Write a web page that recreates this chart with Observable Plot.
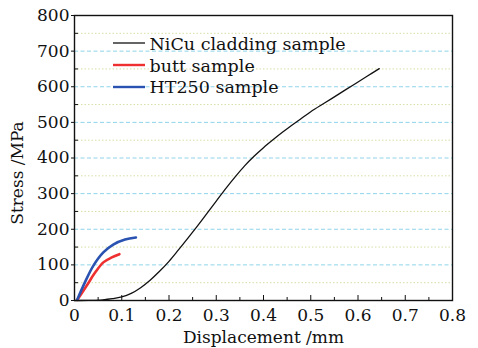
<!DOCTYPE html>
<html>
<head>
<meta charset="utf-8">
<script src="https://cdn.jsdelivr.net/npm/d3@7"></script>
<script src="https://cdn.jsdelivr.net/npm/@observablehq/plot@0.6"></script>
<style>
  html, body { margin: 0; padding: 0; background: #fff; }
  #wrap { position: relative; width: 478px; height: 348px; }
  #legend { position: absolute; left: 113px; top: 32px; }
  #legend .row { display: flex; align-items: center; height: 21.9px; }
</style>
</head>
<body>
<div id="wrap"><div id="legend"></div></div>
<script>
const FONT = "'DejaVu Serif', 'Liberation Serif', serif";

// NiCu cladding sample
const nicuX = [0, 0.03, 0.06, 0.08, 0.1, 0.12, 0.14, 0.16, 0.18, 0.2, 0.22, 0.24, 0.26, 0.28, 0.3, 0.32, 0.34, 0.36, 0.38, 0.4, 0.42, 0.44, 0.46, 0.48, 0.5, 0.53, 0.56, 0.59, 0.62, 0.645];
const nicuY = [0, 0.5, 2, 5, 10, 20, 36, 57, 82, 110, 142, 175, 209, 244, 279, 314, 347, 378, 405, 429, 451, 472, 492, 511, 530, 555, 580, 605, 630, 651];
// butt sample
const buttX = [0.006, 0.026, 0.044, 0.061, 0.079, 0.095];
const buttY = [2, 42, 79, 107, 121, 130];
// HT250 sample
const htX = [0.006, 0.022, 0.04, 0.061, 0.082, 0.107, 0.13];
const htY = [3, 51, 98, 135, 157, 171, 177];

const seriesNames = ["NiCu cladding sample", "butt sample", "HT250 sample"];
const seriesColors = ["#111111", "#ee3030", "#2a52b0"];

const xMajor = [0, 0.1, 0.2, 0.3, 0.4, 0.5, 0.6, 0.7, 0.8];
const xMinor = [0.05, 0.15, 0.25, 0.35, 0.45, 0.55, 0.65, 0.75];
const yMajor = [0, 100, 200, 300, 400, 500, 600, 700, 800];
const yMinor = [50, 150, 250, 350, 450, 550, 650, 750];
const yGridMajor = [100, 200, 300, 400, 500, 600, 700];

const toRows = (xs, ys, name) => xs.map((x, i) => ({x, y: ys[i], name}));
const rows = [
  ...toRows(nicuX, nicuY, seriesNames[0]),
  ...toRows(buttX, buttY, seriesNames[1]),
  ...toRows(htX, htY, seriesNames[2])
];

const legendTexts = seriesNames.map((n, i) =>
  Plot.text([n], {frameAnchor: "top-left", dx: 75, dy: 28.5 + 21.9 * i, textAnchor: "start", lineAnchor: "middle", fontSize: 17.5, fill: "#111"})
);

const chart = Plot.plot({
  width: 478,
  height: 348,
  marginLeft: 74,
  marginRight: 26,
  marginTop: 15,
  marginBottom: 48,
  style: {fontFamily: FONT, fontSize: "17px", color: "#111", background: "transparent"},
  x: {domain: [0, 0.8]},
  y: {domain: [0, 800]},
  marks: [
    Plot.ruleY(yMinor, {stroke: "#d6dfa6", strokeWidth: 1, strokeDasharray: "1.5,2"}),
    Plot.ruleY(yGridMajor, {stroke: "#8fd4ea", strokeWidth: 1, strokeDasharray: "4,2.5"}),
    Plot.axisX({ticks: xMajor, tickSize: -5, tickPadding: 13, tickFormat: d => d === 0 ? "0" : d3.format(".1f")(d), label: "Displacement /mm", labelArrow: "none", labelAnchor: "center", labelOffset: 42, stroke: "#111"}),
    Plot.axisX({ticks: xMinor, tickSize: -3, tickFormat: () => "", label: null, stroke: "#111"}),
    Plot.axisY({ticks: yMajor, tickSize: 3, tickPadding: 2, label: null, stroke: "#111"}),
    Plot.axisY({ticks: yMinor, tickSize: -4, tickFormat: () => "", label: null, stroke: "#111"}),
    Plot.text(["Stress /MPa"], {frameAnchor: "left", rotate: -90, dx: -52, dy: 15, lineAnchor: "bottom", textAnchor: "middle", fontSize: 17, fill: "#111"}),
    ...legendTexts,
    Plot.line(rows, {x: "x", y: "y", z: "name", stroke: "name", strokeWidth: d => d.name === seriesNames[0] ? 1.3 : 2.6, curve: "catmull-rom"}),
    Plot.frame({stroke: "#111", strokeWidth: 1.4})
  ],
  color: {domain: seriesNames, range: seriesColors}
});
chart.style.fontFamily = FONT;
chart.querySelectorAll("text").forEach(t => { t.style.fontFamily = FONT; });
document.getElementById("wrap").prepend(chart);

// legend swatches
const legend = document.getElementById("legend");
seriesNames.forEach((n, i) => {
  const row = document.createElement("div");
  row.className = "row";
  row.innerHTML = `<svg width="32" height="4"><line x1="0" x2="32" y1="2" y2="2" stroke="${seriesColors[i]}" stroke-width="${i === 0 ? 1.3 : 2.4}"/></svg>`;
  legend.appendChild(row);
});
</script>
</body>
</html>
